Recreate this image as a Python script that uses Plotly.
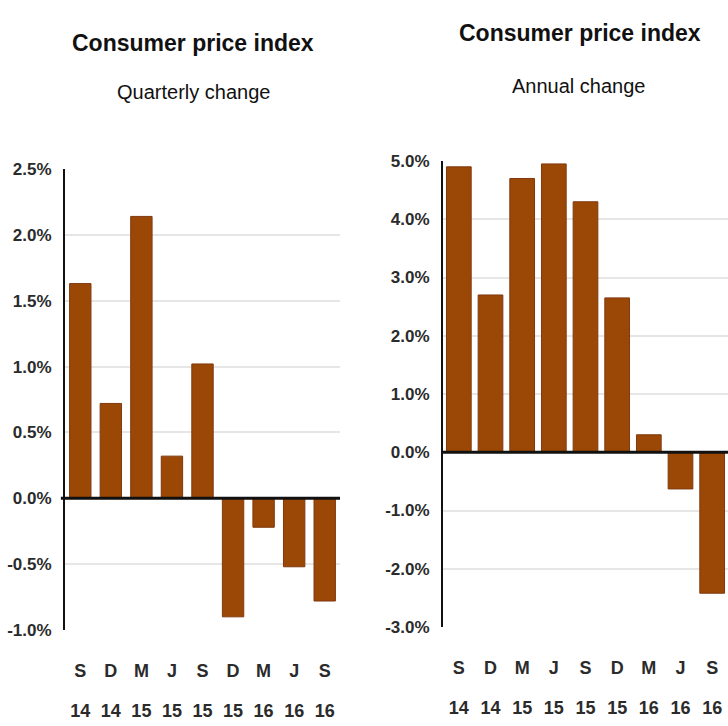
import plotly.graph_objects as go

categories = ["S 14", "D 14", "M 15", "J 15", "S 15", "D 15", "M 16", "J 16", "S 16"]
month_labels = ["S", "D", "M", "J", "S", "D", "M", "J", "S"]
year_labels = ["14", "14", "15", "15", "15", "15", "16", "16", "16"]
quarterly_change = [1.63, 0.72, 2.14, 0.32, 1.02, -0.90, -0.22, -0.52, -0.78]
annual_change = [4.9, 2.7, 4.7, 4.95, 4.3, 2.65, 0.3, -0.63, -2.42]
left_ticks = [-1.0, -0.5, 0.0, 0.5, 1.0, 1.5, 2.0, 2.5]
left_tick_text = ["-1.0%", "-0.5%", "0.0%", "0.5%", "1.0%", "1.5%", "2.0%", "2.5%"]
right_ticks = [-3.0, -2.0, -1.0, 0.0, 1.0, 2.0, 3.0, 4.0, 5.0]
right_tick_text = ["-3.0%", "-2.0%", "-1.0%", "0.0%", "1.0%", "2.0%", "3.0%", "4.0%", "5.0%"]

FONT = "Liberation Sans, Arial, sans-serif"
BAR = "#9b4705"
EDGE = "#80390f"
TXT = "#2b2b2b"

W, H = 728, 726


def xp(sx):
    return sx / W


def yp(sy):
    return 1 - sy / H


fig = go.Figure()
bar_style = dict(marker=dict(color=BAR, line=dict(color=EDGE, width=1)),
                 showlegend=False, hoverinfo="skip")
fig.add_trace(go.Bar(x=categories, y=quarterly_change, xaxis="x", yaxis="y",
                     width=0.7, **bar_style))
fig.add_trace(go.Bar(x=categories, y=annual_change, xaxis="x2", yaxis="y2",
                     width=0.78, **bar_style))
# invisible copies that carry the second row (years) of category labels
fig.add_trace(go.Bar(x=categories, y=quarterly_change, xaxis="x3", yaxis="y",
                     width=0.7, opacity=0, showlegend=False, hoverinfo="skip"))
fig.add_trace(go.Bar(x=categories, y=annual_change, xaxis="x4", yaxis="y2",
                     width=0.78, opacity=0, showlegend=False, hoverinfo="skip"))

tickfont_y = dict(family=FONT, size=17, color=TXT, weight="bold")
tickfont_x = dict(family=FONT, size=18, color=TXT, weight="bold")

common_y = dict(showline=True, linecolor="#111", linewidth=2, showgrid=True,
                gridcolor="#e6e6e6", gridwidth=2, zeroline=False, ticks="",
                tickfont=tickfont_y, ticklabelstandoff=8, automargin=False)
common_x = dict(type="category", range=[-0.5, 8.5], showline=False, showgrid=False,
                zeroline=False, ticks="", tickvals=categories, tickfont=tickfont_x,
                automargin=False)

fig.update_layout(
    template="none",
    width=W, height=H, margin=dict(l=0, r=0, t=0, b=0, autoexpand=False),
    paper_bgcolor="white", plot_bgcolor="white", hovermode=False,
    xaxis=dict(domain=[xp(65), xp(340)], anchor="y", ticktext=month_labels,
               ticklabelstandoff=28, **common_x),
    xaxis3=dict(domain=[xp(65), xp(340)], anchor="y", overlaying="x", matches="x",
                ticktext=year_labels, ticklabelstandoff=68, **common_x),
    yaxis=dict(domain=[yp(630), yp(169)], anchor="x", range=[-1.0, 2.5],
               tickvals=left_ticks, ticktext=left_tick_text, **common_y),
    xaxis2=dict(domain=[xp(443), 1.0], anchor="y2", ticktext=month_labels,
                ticklabelstandoff=28, **common_x),
    xaxis4=dict(domain=[xp(443), 1.0], anchor="y2", overlaying="x2", matches="x2",
                ticktext=year_labels, ticklabelstandoff=68, **common_x),
    yaxis2=dict(domain=[yp(627), yp(161)], anchor="x2", range=[-3.0, 5.0],
                tickvals=right_ticks, ticktext=right_tick_text, **common_y),
)

fig.add_shape(type="line", xref="x domain", yref="y", x0=-0.015, x1=1, y0=0, y1=0,
              line=dict(color="#111", width=3), layer="above")
fig.add_shape(type="line", xref="x2 domain", yref="y2", x0=0, x1=1, y0=0, y1=0,
              line=dict(color="#111", width=3), layer="above")

titles = [
    (193, 43, "<b>Consumer price index</b>", 23),
    (193, 92, "Quarterly change", 20),
    (580, 33, "<b>Consumer price index</b>", 23),
    (578, 86, "Annual change", 20),
]
for x, y, t, s in titles:
    fig.add_annotation(x=xp(x), y=yp(y), xref="paper", yref="paper", text=t,
                       showarrow=False, xanchor="center", yanchor="middle",
                       font=dict(family=FONT, size=s, color="#111"))

fig.write_html(
    "out.html",
    config={"displayModeBar": False, "staticPlot": True},
    post_script="document.body.style.margin='0px';"
                "document.documentElement.style.overflow='hidden';"
                "document.body.style.overflow='hidden';",
)
